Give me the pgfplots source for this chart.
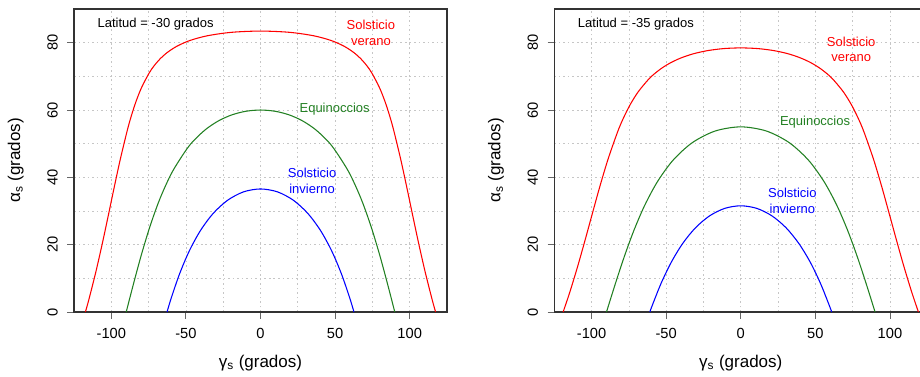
\documentclass[border=0pt]{standalone}
\usepackage{fontspec}
\setmainfont{Liberation Sans}
\usepackage{pgfplots}
\pgfplotsset{compat=1.18}
\definecolor{cred}{RGB}{255,0,0}
\definecolor{cgreen}{RGB}{34,128,34}
\definecolor{cblue}{RGB}{0,0,255}
\tikzset{ann/.style={font=\fontsize{9.75}{11.8}\selectfont, align=center}}
\pgfplotsset{
  panel/.style={
    scale only axis, width=279.75pt, height=227.25pt,
    xmin=-125, xmax=125, ymin=0, ymax=90,
    xtick={-100,-50,0,50,100},
    minor xtick={-75,-25,25,75},
    ytick={0,20,40,60,80},
    minor ytick={10,30,50,70},
    grid=both,
    major grid style={gray!45, line width=0.5pt, dash pattern=on 1.2pt off 2.2pt},
    minor grid style={gray!45, line width=0.5pt, dash pattern=on 1.2pt off 2.2pt},
    minor tick length=0pt,
    major tick length=5pt,
    tick align=outside,
    xtick pos=bottom, ytick pos=left,
    tick style={gray!80!black, line width=0.6pt},
    axis line style={black!80, line width=0.8pt},
    /pgf/number format/assume math mode=true,
    ticklabel style={font=\fontsize{11}{13}\selectfont},
    xticklabel style={anchor=center, yshift=-11pt},
    yticklabel style={anchor=center, xshift=-11pt, rotate=90},
    every axis x label/.style={at={(axis description cs:0.5,0)}, yshift=-38pt, anchor=center, font=\fontsize{12.75}{14}\selectfont},
    every axis y label/.style={at={(axis description cs:0,0.5)}, xshift=-43.7pt, rotate=90, anchor=center, font=\fontsize{12.75}{14}\selectfont},
    xlabel={γ\textsubscript{s} (grados)},
    ylabel={α\textsubscript{s} (grados)},
    every axis plot/.append style={line width=0.8pt, smooth, no marks},
  },
}
\begin{document}
\begin{tikzpicture}
% ---------- Latitud -30 ----------
\begin{axis}[panel, at={(0pt,0pt)}, anchor=south west]
\addplot[cred] coordinates {
(-117.36,0) (-115.15,3.50) (-110.59,11.48) (-106.35,19.69) (-102.29,28.08)
(-98.26,36.60) (-94.05,45.21) (-89.34,53.86) (-86.62,58.19) (-83.46,62.50)
(-79.61,66.78) (-74.60,71.01) (-71.40,73.08) (-67.48,75.11) (-62.54,77.07)
(-56.09,78.93) (-47.39,80.64) (-35.45,82.07) (-19.40,83.08) (0,83.45)
(19.40,83.08) (35.45,82.07) (47.39,80.64) (56.09,78.93) (62.54,77.07)
(67.48,75.11) (71.40,73.08) (74.60,71.01) (79.61,66.78) (83.46,62.50)
(86.62,58.19) (89.34,53.86) (94.05,45.21) (98.26,36.60) (102.29,28.08)
(106.35,19.69) (110.59,11.48) (115.15,3.50) (117.36,0)};
\addplot[cgreen] coordinates {
(-90,0) (-84.96,8.65) (-79.69,17.23) (-73.90,25.66) (-67.24,33.83) (-59.21,41.56)
(-49.11,48.59) (-43.00,51.71) (-36.06,54.47) (-28.19,56.77) (-19.43,58.52) (-9.93,59.62) (0,60)
(9.93,59.62) (19.43,58.52) (28.19,56.77) (36.06,54.47) (43.00,51.71) (49.11,48.59)
(59.21,41.56) (67.24,33.83) (73.90,25.66) (79.69,17.23) (84.96,8.65) (90,0)};
\addplot[cblue] coordinates {
(-62.64,0) (-59.81,4.17) (-54.15,11.44) (-47.70,18.16) (-40.27,24.18) (-31.73,29.28)
(-22.03,33.20) (-11.31,35.70) (0,36.55)
(11.31,35.70) (22.03,33.20) (31.73,29.28) (40.27,24.18) (47.70,18.16)
(54.15,11.44) (59.81,4.17) (62.64,0)};
\node[ann, anchor=west] at (axis cs:-112.3,85.6) {Latitud = -30 grados};
\node[ann, text=cred] at (axis cs:74,83) {Solsticio\\verano};
\node[ann, text=cgreen] at (axis cs:49.7,60.4) {Equinoccios};
\node[ann, text=cblue] at (axis cs:34.6,39) {Solsticio\\invierno};
\end{axis}
% ---------- Latitud -35 ----------
\begin{axis}[panel, at={(360.2pt,0pt)}, anchor=south west]
\addplot[cred] coordinates {
(-119.07,0) (-114.79,5.61) (-109.56,13.19) (-104.56,21.02) (-99.61,29.03)
(-94.53,37.16) (-89.00,45.34) (-82.55,53.51) (-78.71,57.55) (-74.21,61.53)
(-68.74,65.41) (-61.77,69.14) (-57.48,70.90) (-52.48,72.58) (-46.60,74.14)
(-39.65,75.54) (-31.46,76.74) (-21.97,77.66) (-11.33,78.25) (0,78.45)
(11.33,78.25) (21.97,77.66) (31.46,76.74) (39.65,75.54) (46.60,74.14)
(52.48,72.58) (57.48,70.90) (61.77,69.14) (68.74,65.41) (74.21,61.53)
(78.71,57.55) (82.55,53.51) (89.00,45.34) (94.53,37.16) (99.61,29.03)
(104.56,21.02) (109.56,13.19) (114.79,5.61) (119.07,0)};
\addplot[cgreen] coordinates {
(-90,0) (-84.22,8.18) (-78.21,16.27) (-71.68,24.18) (-64.30,31.77) (-55.64,38.86)
(-45.19,45.19) (-32.39,50.33) (-17.09,53.77) (0,55)
(17.09,53.77) (32.39,50.33) (45.19,45.19) (55.64,38.86) (64.30,31.77)
(71.68,24.18) (78.21,16.27) (84.22,8.18) (90,0)};
\addplot[cblue] coordinates {
(-60.93,0) (-59.59,1.65) (-53.44,8.48) (-46.61,14.76) (-38.97,20.33) (-30.40,25.00)
(-20.93,28.55) (-10.69,30.79) (0,31.55)
(10.69,30.79) (20.93,28.55) (30.40,25.00) (38.97,20.33) (46.61,14.76)
(53.44,8.48) (59.59,1.65) (60.93,0)};
\node[ann, anchor=west] at (axis cs:-112.3,85.6) {Latitud = -35 grados};
\node[ann, text=cred] at (axis cs:74,78) {Solsticio\\verano};
\node[ann, text=cgreen] at (axis cs:49.8,56.5) {Equinoccios};
\node[ann, text=cblue] at (axis cs:34.6,33) {Solsticio\\invierno};
\end{axis}
\pgfresetboundingbox
\useasboundingbox (-55.5pt,-48pt) rectangle (634.5pt,234pt);
\end{tikzpicture}
\end{document}
